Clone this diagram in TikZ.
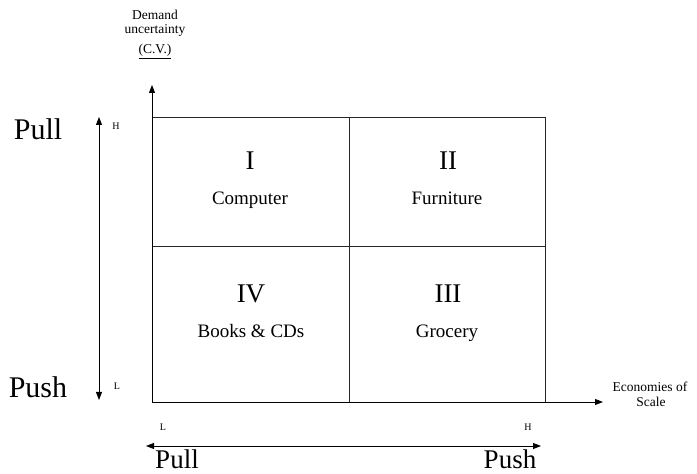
\documentclass[tikz,border=0pt]{standalone}
\usepackage{fontspec}
\setmainfont{Liberation Serif}
\usetikzlibrary{arrows.meta}
\begin{document}
\begin{tikzpicture}[x=1pt,y=1pt,
  axis/.style={line width=0.9pt,-{Triangle[length=8pt,width=6pt]}},
  twoway/.style={line width=0.9pt,{Triangle[length=8pt,width=6pt]}-{Triangle[length=8pt,width=6pt]}},
  gridline/.style={line width=0.8pt,draw=black!85},
  txt/.style={anchor=base,inner sep=0pt},
  numeral/.style={txt,font=\fontsize{27}{29}\selectfont},
  cell/.style={txt,font=\fontsize{19}{21}\selectfont},
  big/.style={txt,font=\fontsize{30}{32}\selectfont},
  bottom/.style={txt,font=\fontsize{27}{29}\selectfont},
  small/.style={txt,font=\fontsize{13.5}{15}\selectfont},
  tiny/.style={font=\fontsize{10}{11}\selectfont}]
\useasboundingbox (0,0) rectangle (697,474);

% grid corners and axis ends
\coordinate (bl) at (152,72);
\coordinate (tr) at (545,357);
\coordinate (mt) at (349,357);
\coordinate (mb) at (349,72);
\coordinate (ml) at (152,228);
\coordinate (mr) at (545,228);
\coordinate (ytip) at (152,389);
\coordinate (xtip) at (603,72);
\coordinate (lt) at (99,357);
\coordinate (lb) at (99,74);
\coordinate (bleft) at (146,28);
\coordinate (bright) at (541,28);

% quadrant grid
\draw[gridline] (bl) rectangle (tr);
\draw[gridline] (mt) -- (mb);
\draw[gridline] (ml) -- (mr);

% axes
\draw[axis] (bl) -- (ytip);
\draw[axis] (bl) -- (xtip);

% strategy arrows
\draw[twoway] (lb) -- (lt);
\draw[twoway] (bleft) -- (bright);

% axis titles
\node[small] (dem) at (155,454) {Demand};
\node[small] (unc) at (155,440) {uncertainty};
\node[small] (cv) at (155,420) {\underline{(C.V.)}};
\node[small] (eco) at (650,82) {Economies of};
\node[small] (scl) at (651,67) {Scale};

% scale marks
\node[tiny] (yh) at (116,348) {H};
\node[tiny] (yl) at (117,88) {L};
\node[tiny] (xl) at (163,47) {L};
\node[tiny] (xh) at (528,47) {H};

% strategy labels
\node[big] (pullv) at (38,334) {Pull};
\node[big] (pushv) at (38,76) {Push};
\node[bottom] (pullh) at (177,5) {Pull};
\node[bottom] (pushh) at (510,5) {Push};

% quadrant contents
\node[numeral] (q1) at (250,304) {I};
\node[cell] (c1) at (250,269) {Computer};
\node[numeral] (q2) at (448,304) {II};
\node[cell] (c2) at (447,269) {Furniture};
\node[numeral] (q4) at (251,171) {IV};
\node[cell] (c4) at (251,136) {Books \& CDs};
\node[numeral] (q3) at (448,171) {III};
\node[cell] (c3) at (447,136) {Grocery};
\end{tikzpicture}
\end{document}
